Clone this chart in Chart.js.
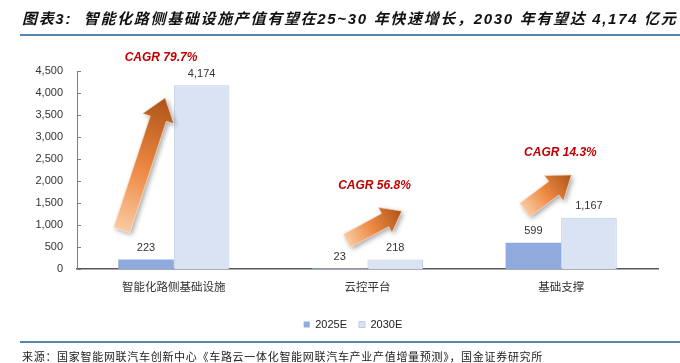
<!DOCTYPE html>
<html>
<head>
<meta charset="utf-8">
<script src="https://cdn.jsdelivr.net/npm/chart.js@4.4.1/dist/chart.umd.min.js"></script>
<style>
  html, body { margin: 0; padding: 0; background: #fff; }
  #wrap { position: relative; width: 680px; height: 363px; overflow: hidden; }
  #c { position: absolute; left: 0; top: 0; }
  #title {
    position: absolute; left: 22px; top: 7px; white-space: nowrap;
    font: italic bold 15px 'Liberation Sans', Arial, 'Noto Sans CJK SC', sans-serif;
    letter-spacing: 1.68px; color: #111;
  }
  .rule { position: absolute; left: 20px; width: 660px; height: 2px; background: #5585a8; }
  #source {
    position: absolute; left: 22px; top: 348px; white-space: nowrap;
    font: 11px 'Noto Sans CJK SC', sans-serif; letter-spacing: 0.7px; color: #222;
    line-height: 16px;
  }
</style>
</head>
<body>
<div id="wrap">
  <canvas id="c" width="680" height="363"></canvas>
  <div id="title">图表3:&nbsp; 智能化路侧基础设施产值有望在25~30 年快速增长，2030 年有望达 4,174 亿元</div>
  <div class="rule" style="top:34px"></div>
  <div class="rule" style="top:341px"></div>
  <div id="source">来源：国家智能网联汽车创新中心《车路云一体化智能网联汽车产业产值增量预测》，国金证券研究所</div>
</div>
<script>
// ---- data ----
const categories = ['智能化路侧基础设施', '云控平台', '基础支撑'];
const seriesNames = ['2025E', '2030E'];
const values2025 = [223, 23, 599];
const values2030 = [4174, 218, 1167];
const yTickValues = [0, 500, 1000, 1500, 2000, 2500, 3000, 3500, 4000, 4500];
const cagrLabels = ['CAGR 79.7%', 'CAGR 56.8%', 'CAGR 14.3%'];

// ---- styling / annotation geometry (category index + offset in category widths, value units) ----
const FONT = "'Liberation Sans', Arial, 'Noto Sans CJK SC', sans-serif";
const arrowGeom = [
  { cat: 0, tail: [-0.269, 884],  tip: [-0.045, 3892], w: 17, hw: 33, hl: 22 },
  { cat: 1, tail: [-0.107, 643],  tip: [0.177, 1320],  w: 15, hw: 29, hl: 19 },
  { cat: 2, tail: [-0.188, 1343], tip: [0.053, 2140],  w: 17, hw: 32, hl: 22 }
];
const cagrPos = [
  { cat: 0, off: -0.066, v: 4810 },
  { cat: 1, off: 0.036,  v: 1894 },
  { cat: 2, off: -0.004, v: 2652 }
];
const LEGEND_SHIFT = 24;

const fmt = v => v.toLocaleString('en-US');

const annotPlugin = {
  id: 'annot',
  afterLayout(chart) {
    const lg = chart.legend;
    if (lg) { lg.left += LEGEND_SHIFT; lg.right += LEGEND_SHIFT; }
  },
  afterDatasetsDraw(chart) {
    const ctx = chart.ctx;
    ctx.save();
    ctx.font = '11px ' + FONT;
    ctx.fillStyle = '#333';
    ctx.textAlign = 'center';
    ctx.textBaseline = 'middle';
    chart.data.datasets.forEach((ds, di) => {
      chart.getDatasetMeta(di).data.forEach((bar, i) => {
        ctx.fillText(fmt(ds.data[i]), bar.x, bar.y - 11.5);
      });
    });
    ctx.restore();
  },
  afterDraw(chart) {
    const ctx = chart.ctx;
    const xs = chart.scales.x, ys = chart.scales.y;
    const cw = xs.getPixelForValue(1) - xs.getPixelForValue(0);
    const P = (cat, off, v) => [xs.getPixelForValue(cat) + off * cw, ys.getPixelForValue(v)];

    // inward ticks on y axis
    ctx.save();
    ctx.strokeStyle = '#7f7f7f';
    ctx.lineWidth = 1;
    yTickValues.forEach(v => {
      const py = Math.round(ys.getPixelForValue(v)) + 0.5;
      ctx.beginPath();
      ctx.moveTo(ys.right, py);
      ctx.lineTo(ys.right + 4, py);
      ctx.stroke();
    });
    ctx.restore();

    // arrows
    arrowGeom.forEach(a => {
      const t = P(a.cat, a.tail[0], a.tail[1]);
      const p = P(a.cat, a.tip[0], a.tip[1]);
      const dx = p[0] - t[0], dy = p[1] - t[1];
      const len = Math.hypot(dx, dy);
      const ux = dx / len, uy = dy / len;
      const nx = -uy, ny = ux;
      const bx = p[0] - ux * a.hl, by = p[1] - uy * a.hl;
      ctx.save();
      const g = ctx.createLinearGradient(t[0], t[1], p[0], p[1]);
      g.addColorStop(0, '#f9caa2');
      g.addColorStop(0.45, '#ee8a44');
      g.addColorStop(1, '#ad5318');
      ctx.beginPath();
      ctx.moveTo(t[0] + nx * a.w / 2, t[1] + ny * a.w / 2);
      ctx.lineTo(bx + nx * a.w / 2, by + ny * a.w / 2);
      ctx.lineTo(bx + nx * a.hw / 2, by + ny * a.hw / 2);
      ctx.lineTo(p[0], p[1]);
      ctx.lineTo(bx - nx * a.hw / 2, by - ny * a.hw / 2);
      ctx.lineTo(bx - nx * a.w / 2, by - ny * a.w / 2);
      ctx.lineTo(t[0] - nx * a.w / 2, t[1] - ny * a.w / 2);
      ctx.closePath();
      ctx.shadowColor = 'rgba(0,0,0,0.35)';
      ctx.shadowBlur = 5;
      ctx.shadowOffsetX = 2;
      ctx.shadowOffsetY = 2;
      ctx.fillStyle = g;
      ctx.fill();
      ctx.shadowColor = 'transparent';
      ctx.strokeStyle = 'rgba(255,235,215,0.8)';
      ctx.lineWidth = 0.8;
      ctx.stroke();
      ctx.restore();
    });

    // CAGR labels
    ctx.save();
    ctx.font = 'italic bold 12px ' + FONT;
    ctx.fillStyle = '#c00000';
    ctx.textAlign = 'center';
    ctx.textBaseline = 'middle';
    cagrPos.forEach((c, i) => {
      const q = P(c.cat, c.off, c.v);
      ctx.fillText(cagrLabels[i], q[0], q[1]);
    });
    ctx.restore();
  }
};

new Chart(document.getElementById('c'), {
  type: 'bar',
  data: {
    labels: categories,
    datasets: [
      { label: seriesNames[0], data: values2025, backgroundColor: '#8faadc', borderColor: '#8faadc', borderWidth: 0 },
      { label: seriesNames[1], data: values2030, backgroundColor: '#dae3f3', borderColor: '#bfcbe3', borderWidth: 1 }
    ]
  },
  options: {
    responsive: false,
    devicePixelRatio: 1,
    animation: false,
    layout: { padding: { left: 0, right: 22, top: 71, bottom: 23 } },
    datasets: { bar: { categoryPercentage: 0.574, barPercentage: 1 } },
    plugins: {
      legend: {
        position: 'bottom',
        labels: {
          boxWidth: 6, boxHeight: 6, padding: 12,
          color: '#222',
          font: { size: 11, family: FONT }
        }
      },
      tooltip: { enabled: false }
    },
    scales: {
      x: {
        grid: { display: false, drawTicks: false },
        border: { display: true, color: '#595959', width: 1.5 },
        ticks: { padding: 12, color: '#333', font: { size: 11.5, family: FONT } }
      },
      y: {
        min: 0, max: 4500,
        afterFit(scale) { scale.width = 77; },
        afterBuildTicks(scale) { scale.ticks = yTickValues.map(v => ({ value: v })); },
        grid: { display: false, drawTicks: false },
        border: { display: true, color: '#7f7f7f', width: 1 },
        ticks: { padding: 14, color: '#333', font: { size: 11, family: FONT }, callback: v => fmt(v) }
      }
    }
  },
  plugins: [annotPlugin]
});
</script>
</body>
</html>
